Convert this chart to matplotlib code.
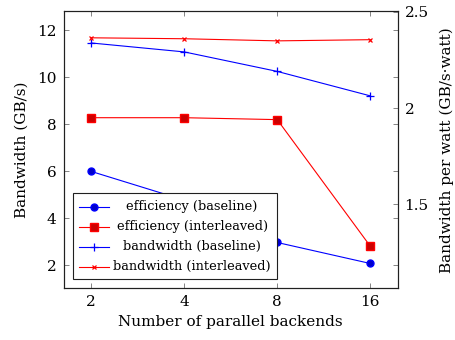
import matplotlib
matplotlib.use("Agg")
import matplotlib.pyplot as plt
from matplotlib.lines import Line2D
from matplotlib.patches import Rectangle

# ── Data ─────────────────────────────────────────────────────────────────────

backends = [2, 4, 8, 16]

# left axis: bandwidth (GB/s)
bw_baseline = [11.45, 11.07, 10.24, 9.2]
bw_interleaved = [11.67, 11.63, 11.54, 11.59]

# right axis: efficiency (GB/s·watt)
eff_baseline = [1.671, 1.522, 1.302, 1.193]
eff_interleaved = [1.950, 1.950, 1.940, 1.283]

labels = ["efficiency (baseline)", "efficiency (interleaved)",
          "bandwidth (baseline)", "bandwidth (interleaved)"]

# ── Style ────────────────────────────────────────────────────────────────────

plt.rcParams["font.family"] = ["DejaVu Serif"]
plt.rcParams["font.size"] = 11

BLUE = "#0000ff"
RED = "#ff0000"
styles = [
    dict(color=BLUE, marker="o", ms=5.0, mfc="#0000cc", mec=BLUE),
    dict(color=RED, marker="s", ms=5.3, mfc="#cc0000", mec=RED),
    dict(color=BLUE, marker="+", ms=5.5, mew=0.9),
    dict(color=RED, marker="x", ms=3.5, mew=0.9),
]
LW = 0.8
TICK = "#707070"

fig = plt.figure(figsize=(4.55, 3.4), dpi=100)
ax = fig.add_axes([0.1396, 0.152, 0.7344, 0.8156])
ax2 = ax.twinx()

ax.plot(backends, bw_baseline, lw=LW, **styles[2])
ax.plot(backends, bw_interleaved, lw=LW, **styles[3])
ax2.plot(backends, eff_baseline, lw=LW, **styles[0])
ax2.plot(backends, eff_interleaved, lw=LW, **styles[1])

ax.set_xscale("log", base=2)
ax.set_xlim(1.627, 19.63)
ax.set_xticks(backends)
ax.set_xticklabels([str(b) for b in backends])
ax.minorticks_off()
ax.set_ylim(1.01, 12.81)
ax.set_yticks([2, 4, 6, 8, 10, 12])
ax2.set_ylim(1.064, 2.504)
ax2.set_yticks([1.5, 2, 2.5])
ax2.set_yticklabels(["1.5", "2", "2.5"])

ax.tick_params(direction="in", top=True, right=True, length=3.6, width=0.6,
               color=TICK, pad=5)
ax2.tick_params(direction="in", length=3.6, width=0.6, color=TICK, pad=5)
for a in (ax, ax2):
    for s in a.spines.values():
        s.set_linewidth(0.8)
        s.set_color("#202020")

ax.set_xlabel("Number of parallel backends", labelpad=4)
ax.set_ylabel("Bandwidth (GB/s)", labelpad=6)
ax2.set_ylabel("Bandwidth per watt (GB/s·watt)", labelpad=8)

# ── Legend (pgfplots style: centred text) ────────────────────────────────────

ax2.add_patch(Rectangle((0.0293, 0.0325), 0.6104, 0.3101, transform=ax2.transAxes,
                        facecolor="white", edgecolor="#202020", lw=0.8, zorder=5))
rows = [0.2943, 0.2221, 0.150, 0.0779]
for lab, st, y in zip(labels, styles, rows):
    ax2.add_line(Line2D([0.0464, 0.1361], [y, y], transform=ax2.transAxes,
                        lw=LW, zorder=6, color=st["color"]))
    ax2.add_line(Line2D([0.0913], [y], transform=ax2.transAxes, lw=0,
                        zorder=7, **st))
    ax2.text(0.385, y, lab, transform=ax2.transAxes, ha="center",
             va="center", zorder=7, fontsize=9.3)

fig.savefig("out.png", dpi=100)
